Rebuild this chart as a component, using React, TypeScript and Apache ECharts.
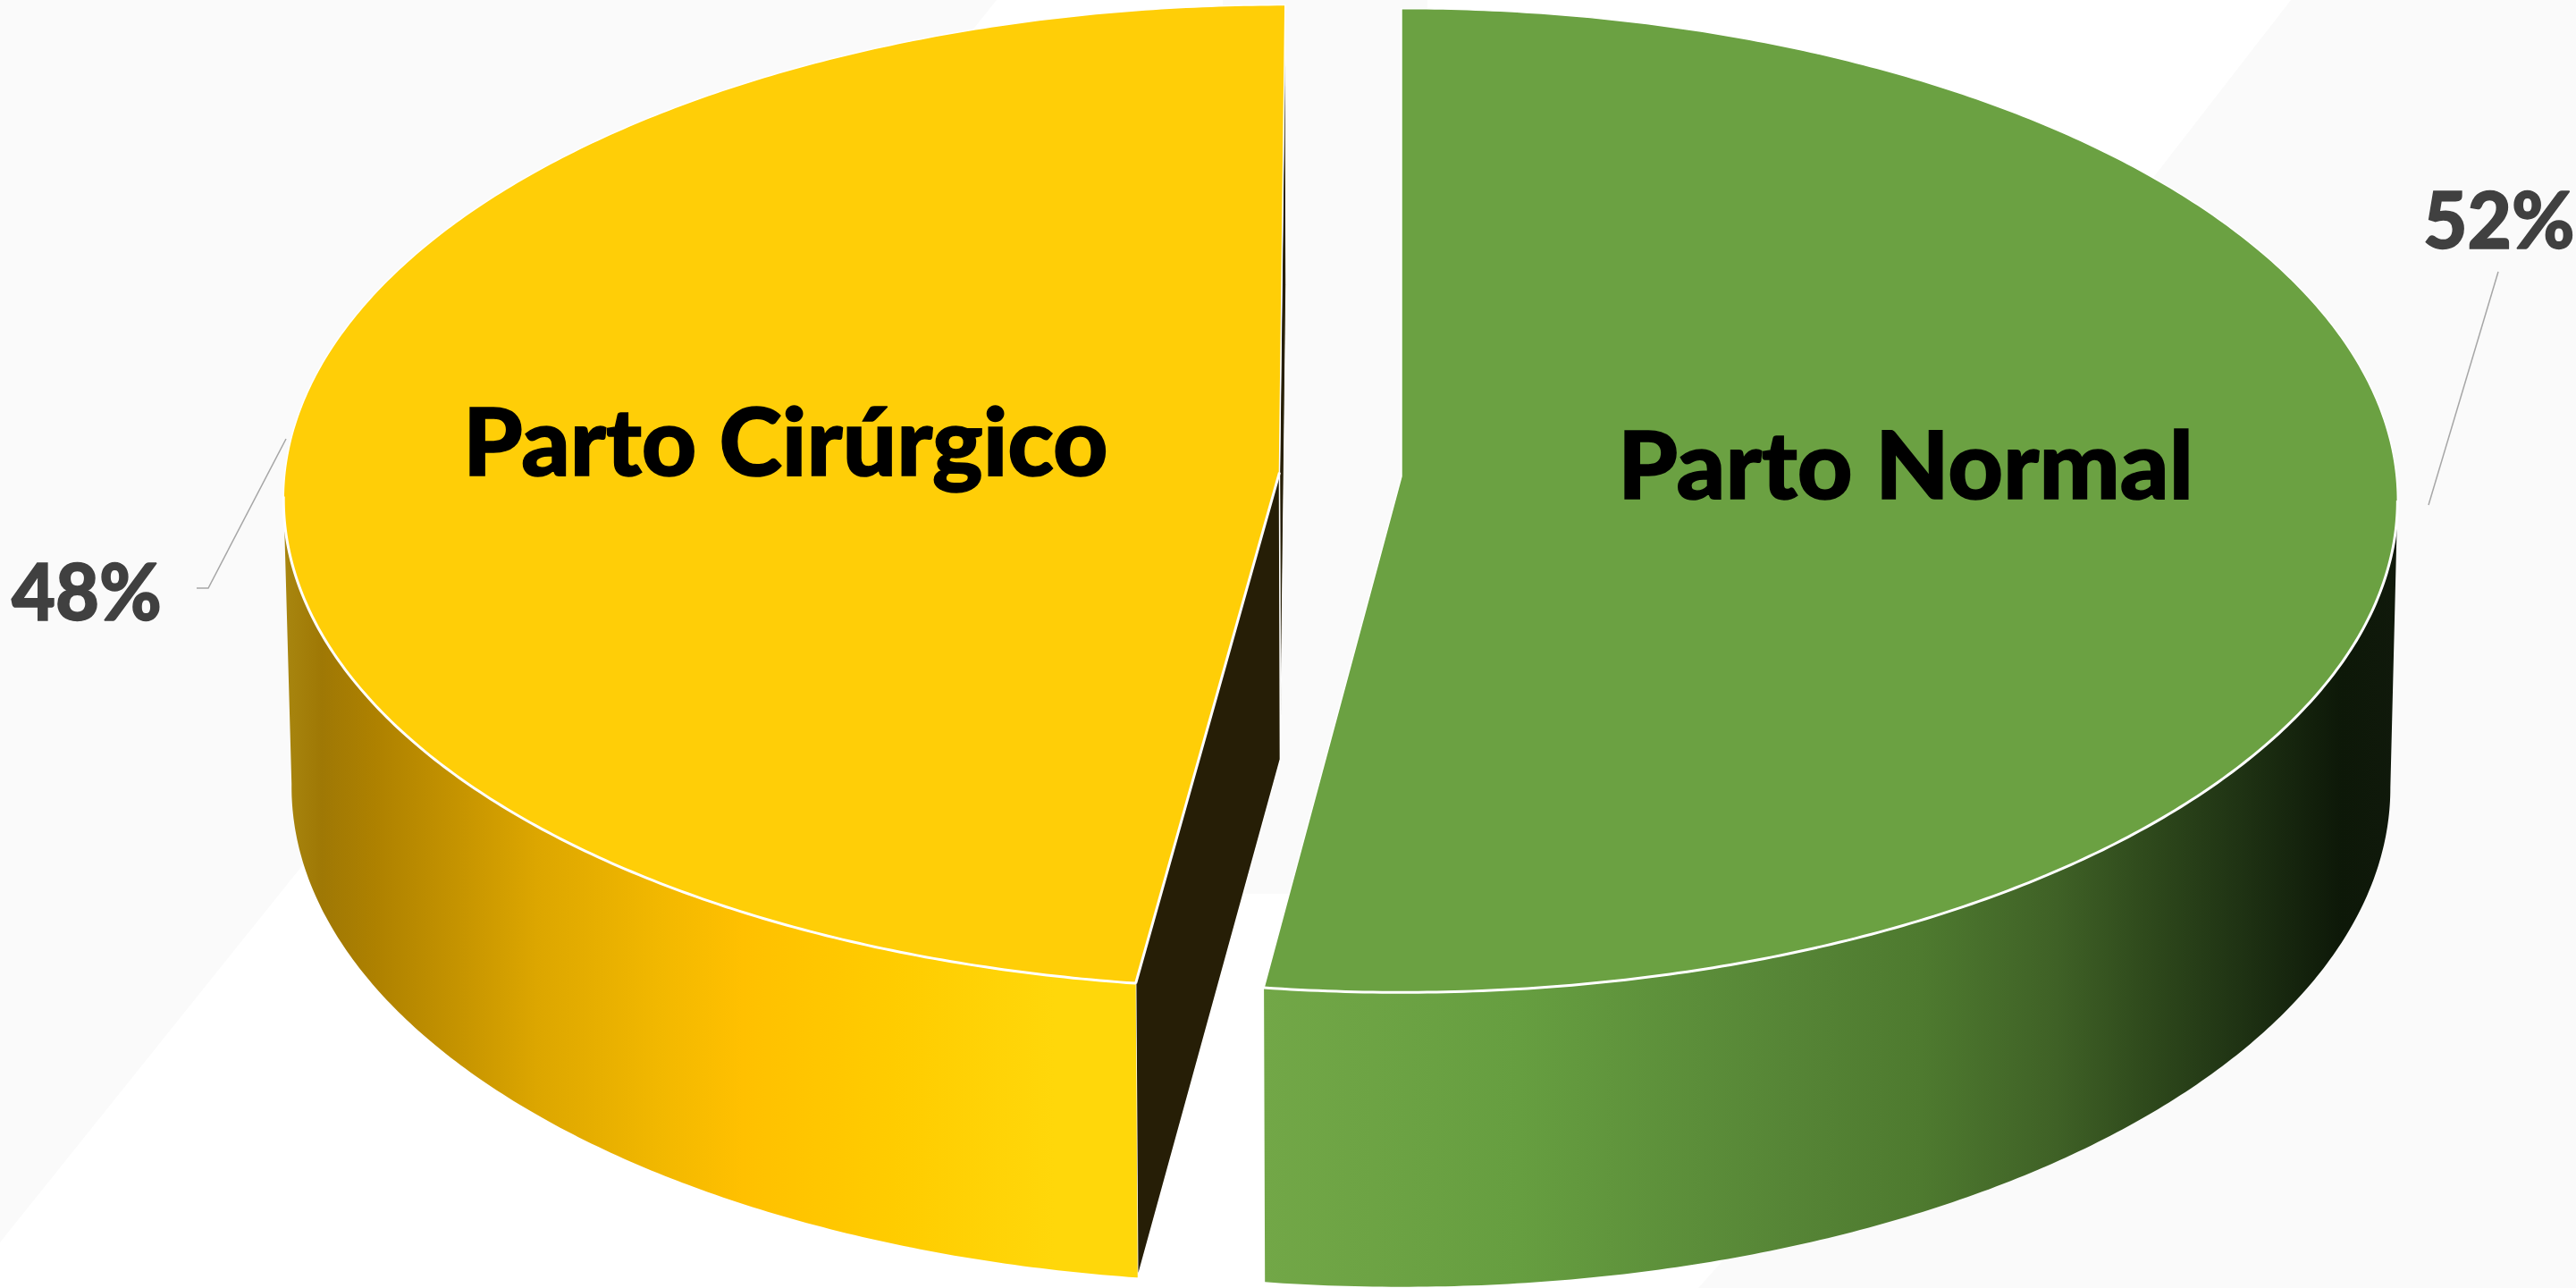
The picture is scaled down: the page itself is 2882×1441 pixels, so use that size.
import React, { useEffect, useRef } from "react";
import * as echarts from "echarts";

// --- data ---
const categories = ["Parto Normal", "Parto Cirúrgico"];
const shares = [52.1, 47.9];
const explodes = [0, 0.123];

// --- layout (px) ---
const W = 2882;
const H = 1441;
const CX = 1568;
const Q = 0.049; // perspective strength
const topPlane = { cy: 533, a: 1113, b: 549 };
const bottomPlane = { cy: 854, a: 1105, b: 557 };

const nameX = [1810, 518];
const nameY = [518, 492];
const nameScale = [1.03, 1.025];
const pctX = [2711, 13];
const pctY = [243, 660];
const pctScale = [0.97, 0.96];
const leaders = [
  [[2795, 304], [2717, 565]],
  [[220, 658], [233, 658], [320, 491]],
];

// --- colours ---
const topColors = ["#6BA142", "#FFCE07"];
const cutColor = "#261E06";
const wallStops = [
  { x0: 1413, x1: 2682, stops: [[1413, "#72A747"], [1700, "#669E40"], [2000, "#568536"], [2150, "#4E7A2F"], [2300, "#3F6126"], [2400, "#2F4A1C"], [2500, "#203414"], [2620, "#0D1808"], [2682, "#10190B"]] },
  { x0: 318, x1: 1275, stops: [[318, "#A8860F"], [360, "#9F7805"], [420, "#AE8100"], [500, "#C29100"], [600, "#DCA600"], [740, "#F2B800"], [830, "#FFC000"], [1000, "#FFCC00"], [1180, "#FFD70A"], [1275, "#FFD70A"]] },
];

const whiteBand = [
  [0, 1390], [1115, 0], [1368, 0], [1368, 1000], [1597, 1000], [1597, 0],
  [2563, 0], [2408, 200], [1926, 1412], [1900, 1441], [0, 1441],
];

const RAD = Math.PI / 180;

// Perspective projection of a point of the pie's disc (t clockwise from 12 o'clock).
function project(plane: any, tDeg: number, du: number, dv: number, r = 1) {
  const u = r * Math.sin(tDeg * RAD) + du;
  const v = -r * Math.cos(tDeg * RAD) + dv;
  const d = 1 - Q * v;
  return [CX + (plane.a * u) / d, plane.cy + (plane.b * v) / d];
}

function arc(plane: any, from: number, to: number, du: number, dv: number) {
  const pts: number[][] = [];
  const n = Math.max(2, Math.ceil(Math.abs(to - from) / 0.5));
  for (let i = 0; i <= n; i++) pts.push(project(plane, from + ((to - from) * i) / n, du, dv));
  return pts;
}

const total = shares.reduce((s, v) => s + v, 0);

function renderSlice(params: any, api: any) {
  const i = params.dataIndex;
  const value = api.value(0);
  const before = shares.slice(0, i).reduce((s, v) => s + v, 0);
  const t0 = (before / total) * 360;
  const t1 = t0 + (value / total) * 360;
  const mid = ((t0 + t1) / 2) * RAD;
  const e = explodes[i];
  const du = e * Math.sin(mid);
  const dv = -e * Math.cos(mid);

  const sideR = 90 + Math.asin(Q) / RAD;
  const sideL = 270 - Math.asin(Q) / RAD;
  const w0 = Math.max(t0, sideR);
  const w1 = Math.min(t1, sideL);

  const topRim = arc(topPlane, t0, t1, du, dv);
  const apex = project(topPlane, 0, du, dv, 0);
  const apexLow = project(bottomPlane, 0, du, dv, 0);
  const frontTop = arc(topPlane, w0, w1, du, dv);
  const frontBottom = arc(bottomPlane, w0, w1, du, dv);
  const ws = wallStops[i];
  const children: any[] = [];

  if (i === 1) {
    // the faces of the cut that look towards the viewer
    children.push({
      type: "polygon",
      shape: { points: [project(topPlane, t1, du, dv), project(bottomPlane, t1, du, dv), apexLow, apex] },
      style: { fill: cutColor, stroke: "#ffffff", lineWidth: 1 },
    });
    children.push({
      type: "polygon",
      shape: { points: [project(topPlane, t0, du, dv), project(bottomPlane, t0, du, dv), apexLow, apex] },
      style: { fill: cutColor, stroke: "#ffffff", lineWidth: 1.5 },
    });
  }

  children.push({
    type: "polygon",
    shape: { points: [...frontTop, ...frontBottom.slice().reverse()] },
    style: {
      fill: {
        type: "linear", x: ws.x0, y: 0, x2: ws.x1, y2: 0, global: true,
        colorStops: ws.stops.map(([x, color]: any) => ({ offset: (x - ws.x0) / (ws.x1 - ws.x0), color })),
      },
    },
  });
  children.push({
    type: "polygon",
    shape: { points: [apex, ...topRim] },
    style: { fill: topColors[i], stroke: "#ffffff", lineWidth: 1.5 },
  });
  children.push({
    type: "polyline",
    shape: { points: frontTop },
    style: { fill: "none", stroke: "#ffffff", lineWidth: 3 },
  });
  if (i === 1) {
    children.push({
      type: "polyline",
      shape: { points: [project(topPlane, t0, du, dv), apex] },
      style: { fill: "none", stroke: "#ffffff", lineWidth: 3 },
    });
  }
  children.push({
    type: "text", x: nameX[i], y: nameY[i], scaleX: nameScale[i],
    style: {
      text: categories[i], fontFamily: "Lato", fontWeight: 900, fontSize: 104,
      fill: "#000000", stroke: "#000000", lineWidth: 1.5, align: "left", verticalAlign: "middle",
    },
  });
  children.push({
    type: "polyline",
    shape: { points: leaders[i] },
    style: { fill: "none", stroke: "#A6A6A6", lineWidth: 1.5 },
  });
  children.push({
    type: "text", x: pctX[i], y: pctY[i], scaleX: pctScale[i],
    style: {
      text: `${Math.round((value / total) * 100)}%`, fontFamily: "Lato", fontWeight: 900, fontSize: 88,
      fill: "#404040", stroke: "#404040", lineWidth: 1.5, align: "left", verticalAlign: "middle",
    },
  });
  return { type: "group", children };
}

export default function App() {
  const ref = useRef<HTMLDivElement>(null);
  useEffect(() => {
    document.body.style.margin = "0";
    document.body.style.background = "#fafafa";
    const chart = echarts.init(ref.current!, undefined, { renderer: "svg" });
    chart.setOption({
      animation: false,
      backgroundColor: "#FAFAFA",
      graphic: [
        {
          type: "polygon", z: 0, silent: true,
          shape: { points: whiteBand },
          style: { fill: "#ffffff" },
        },
      ],
      series: [
        {
          type: "custom",
          coordinateSystem: "none",
          silent: true,
          z: 5,
          data: shares.map((v) => [v]),
          renderItem: renderSlice,
        },
      ],
    });
    return () => chart.dispose();
  }, []);
  return <div ref={ref} style={{ width: W, height: H, overflow: "hidden" }} />;
}
